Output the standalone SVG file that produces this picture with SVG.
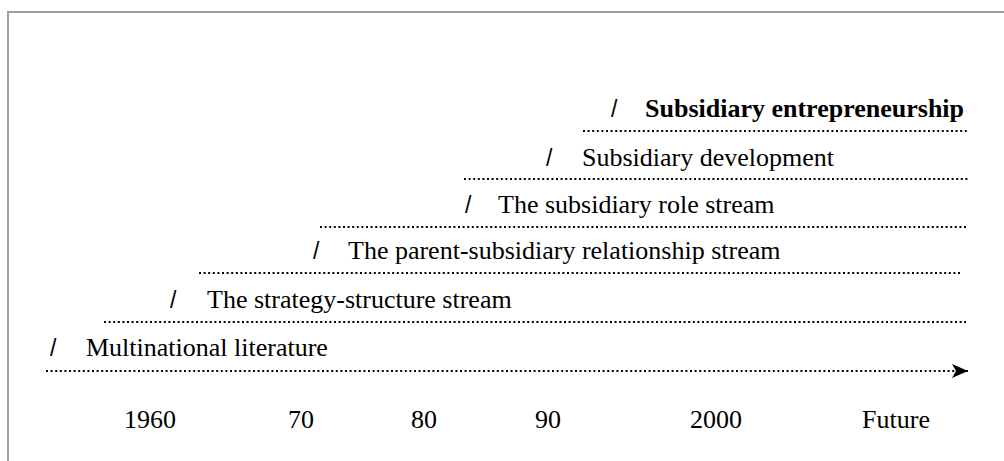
<svg xmlns="http://www.w3.org/2000/svg" width="1004" height="461" viewBox="0 0 1004 461">
  <style>
    .lbl { font-family: "Liberation Serif", "Times New Roman", serif; font-size: 26px; fill: #000; }
    .bold { font-weight: bold; }
    .sl { font-family: "Liberation Sans", Arial, sans-serif; font-size: 23px; fill: #000; }
    .dot { stroke: #000; stroke-width: 2; stroke-dasharray: 2 2.6; fill: none; }
    .frame { stroke: #a0a0a0; stroke-width: 2; fill: none; }
  </style>
  <defs>
    <marker id="arrow" markerWidth="16" markerHeight="14" refX="16" refY="7" orient="auto" markerUnits="userSpaceOnUse">
      <path d="M0,0 L16,7 L0,14 L4,7 Z" fill="#000"/>
    </marker>
  </defs>

  <rect width="1004" height="461" fill="#fff"/>
  <path class="frame" d="M8,461 V12 H1004"/>

  <!-- dotted period bars; the bottom one is the time axis -->
  <g id="connectors">
    <line class="dot" x1="583" y1="131" x2="967" y2="131"/>
    <line class="dot" x1="464" y1="179" x2="969" y2="179"/>
    <line class="dot" x1="320" y1="227" x2="968" y2="227"/>
    <line class="dot" x1="199" y1="273" x2="960" y2="273"/>
    <line class="dot" x1="104" y1="322" x2="966" y2="322"/>
    <line class="dot" x1="46" y1="371" x2="968" y2="371" marker-end="url(#arrow)"/>
  </g>

  <g id="subsidiary-entrepreneurship">
    <text class="sl" x="611" y="117">/</text>
    <text class="lbl bold" x="645" y="117">Subsidiary entrepreneurship</text>
  </g>
  <g id="subsidiary-development">
    <text class="sl" x="546" y="166">/</text>
    <text class="lbl" x="582" y="166">Subsidiary development</text>
  </g>
  <g id="subsidiary-role">
    <text class="sl" x="465" y="213">/</text>
    <text class="lbl" x="498" y="213">The subsidiary role stream</text>
  </g>
  <g id="parent-subsidiary">
    <text class="sl" x="313" y="259">/</text>
    <text class="lbl" x="348" y="259">The parent-subsidiary relationship stream</text>
  </g>
  <g id="strategy-structure">
    <text class="sl" x="170" y="308">/</text>
    <text class="lbl" x="207" y="308">The strategy-structure stream</text>
  </g>
  <g id="multinational-literature">
    <text class="sl" x="50" y="356">/</text>
    <text class="lbl" x="86" y="356">Multinational literature</text>
  </g>

  <g id="time-axis" class="lbl" text-anchor="middle">
    <text x="150" y="428">1960</text>
    <text x="301" y="428">70</text>
    <text x="424" y="428">80</text>
    <text x="548" y="428">90</text>
    <text x="716" y="428">2000</text>
    <text x="896" y="428">Future</text>
  </g>
</svg>
